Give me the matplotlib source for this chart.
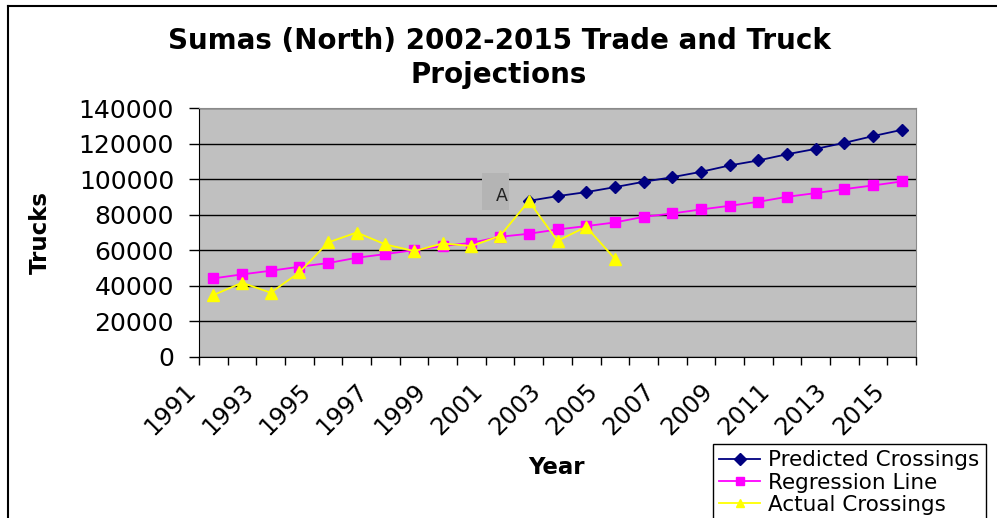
import matplotlib
matplotlib.use("Agg")
import matplotlib.pyplot as plt
from matplotlib.lines import Line2D
from matplotlib.patches import Rectangle
from matplotlib.transforms import ScaledTranslation

plt.rcParams['font.family'] = ['DejaVu Sans']

years = list(range(1991, 2016))
tick_labels = [str(y) for y in years[::2]]

regression = [44200, 46450, 48500, 50750, 52800, 55800, 57870, 60100, 62360, 64200,
              67600, 69300, 71700, 73600, 75650, 78800, 80700, 82950, 85000, 87250,
              90060, 92150, 94400, 96450, 98700]
predicted_years = list(range(2002, 2016))
predicted = [87800, 90450, 92700, 95500, 98500, 101100, 104100, 107700, 110500,
             114000, 117000, 120400, 124200, 127700]
actual_years = list(range(1991, 2006))
actual = [34800, 41750, 36150, 47570, 64400, 70000, 63300, 59550, 63850, 62360,
          68150, 87640, 65340, 73200, 55230]

W, H = 997, 518
fig = plt.figure(figsize=(W / 100, H / 100), dpi=100)
ax = fig.add_axes([199 / W, 1 - 357 / H, (916 - 199) / W, (357 - 108) / H])
ax.set_facecolor('#C0C0C0')

idx = {y: i for i, y in enumerate(years)}
xp = [idx[y] for y in predicted_years]
xr = [idx[y] for y in years]
xa = [idx[y] for y in actual_years]

ax.plot(xp, predicted, color='#000080', marker='D', markersize=6.5, lw=1.3,
        label='Predicted Crossings', zorder=4)
ax.plot(xr, regression, color='#FF00FF', marker='s', markersize=7, lw=1.3,
        label='Regression Line', zorder=3)
ax.plot(xa, actual, color='#FFFF00', marker='^', markersize=9, lw=1.3,
        label='Actual Crossings', zorder=5)

ax.set_xlim(-0.5, len(years) - 0.5)
ax.set_ylim(0, 140000)
ax.set_yticks(range(0, 140001, 20000))
ax.yaxis.grid(True, color='black', lw=1.0)
ax.set_axisbelow(True)
ax.tick_params(axis='y', direction='out', length=7, width=1, pad=11, labelsize=18)

ax.set_xticks([i - 0.5 for i in range(len(years) + 1)], minor=True)
ax.set_xticks([idx[int(t)] for t in tick_labels])
ax.set_xticklabels(tick_labels, rotation=45, ha='right', va='center',
                   rotation_mode='anchor', fontsize=17.5)
ax.tick_params(axis='x', which='major', length=0, pad=0)
ax.tick_params(axis='x', which='minor', direction='out', length=6, width=1)
off = ScaledTranslation(-21 / 100, -30 / 100, fig.dpi_scale_trans)
for lab in ax.get_xticklabels():
    lab.set_transform(lab.get_transform() + off)

for s in ['top', 'right']:
    ax.spines[s].set_color('#8a8a8a')
for s in ['left', 'bottom']:
    ax.spines[s].set_color('black')

fig.text(499 / W, 1 - 41 / H, 'Sumas (North) 2002-2015 Trade and Truck',
         ha='center', va='center', fontsize=20, fontweight='bold')
fig.text(499 / W, 1 - 75 / H, 'Projections',
         ha='center', va='center', fontsize=20, fontweight='bold')
fig.text(40 / W, 1 - 232 / H, 'Trucks', rotation=90, ha='center', va='center',
         fontsize=16.5, fontweight='bold')
fig.text(556 / W, 1 - 468 / H, 'Year', ha='center', va='center',
         fontsize=16.5, fontweight='bold')

# stray label box
fig.patches.append(Rectangle((482 / W, 1 - 210 / H), 27 / W, 37 / H,
                             transform=fig.transFigure, facecolor='#B4B4B4',
                             edgecolor='none', zorder=6))
fig.text(502 / W, 1 - 196 / H, 'A', ha='center', va='center', fontsize=12.5,
         color='#222222', zorder=7)

leg = fig.legend(loc='upper left', bbox_to_anchor=(713 / W, 1 - 444 / H),
                 bbox_transform=fig.transFigure, frameon=True, fancybox=False,
                 edgecolor='black', framealpha=1, fontsize=15.5, handlelength=1.9,
                 handletextpad=0.35, borderpad=0.3, labelspacing=0.1,
                 borderaxespad=0)
leg.get_frame().set_linewidth(1.0)
for h in leg.legend_handles:
    h.set_markersize(6)

fig.add_artist(Line2D([8 / W, 1], [1 - 6 / H, 1 - 6 / H], color='black', lw=1.5,
                      transform=fig.transFigure))
fig.add_artist(Line2D([8 / W, 8 / W], [0, 1 - 6 / H], color='black', lw=1.5,
                      transform=fig.transFigure))

fig.savefig('out.png', dpi=100)
